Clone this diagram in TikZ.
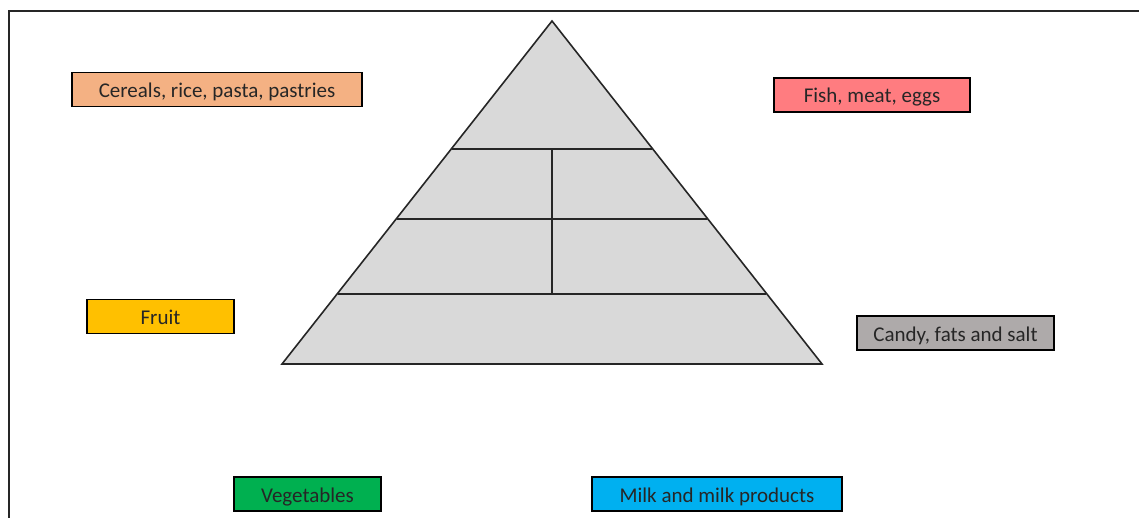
\documentclass[tikz,border=0pt]{standalone}
\usepackage{fontspec}
\setmainfont{Carlito}
\definecolor{cereal}{HTML}{F4B183}
\definecolor{fish}{HTML}{FF7C80}
\definecolor{fruit}{HTML}{FFC000}
\definecolor{candy}{HTML}{AEAAAA}
\definecolor{veg}{HTML}{00B050}
\definecolor{milk}{HTML}{00B0F0}
\definecolor{pyr}{HTML}{D9D9D9}
\tikzset{
  foodbox/.style={draw=black, line width=1.2pt, minimum height=34pt, inner sep=0pt,
    text height=16pt, text depth=0pt,
    font=\fontsize{21}{24}\selectfont, text=black!85},
  pyrline/.style={line width=1.6pt, black!85}
}
\begin{document}
\begin{tikzpicture}[x=1pt,y=-1pt]
	    \useasboundingbox (0,0) rectangle (1139,518);
	    % frame
	    \draw[line width=2.5pt, black!85] (1139,11) -- (9,11) -- (9,518);
	    % pyramid
	    \coordinate (A) at (552,21);
	    \coordinate (BL) at (282,364);
	    \coordinate (BR) at (822,364);
	    \coordinate (L1) at (452,149);
	    \coordinate (R1) at (652,149);
	    \coordinate (L2) at (397,219);
	    \coordinate (R2) at (707,219);
	    \coordinate (L3) at (338,294);
	    \coordinate (R3) at (766,294);
	    \coordinate (M1) at (552,149);
	    \coordinate (M3) at (552,294);
	    \draw[pyrline, fill=pyr, line join=miter] (A) -- (BL) -- (BR) -- cycle;
	    \draw[pyrline] (L1) -- (R1);
	    \draw[pyrline] (L2) -- (R2);
	    \draw[pyrline] (L3) -- (R3);
	    \draw[pyrline] (M1) -- (M3);
	    % labels
	    \node[foodbox, fill=cereal, minimum width=290pt] (cereals) at (217,89.5) {Cereals, rice, pasta, pastries};
	    \node[foodbox, fill=fish, minimum width=196pt] (fish) at (872,95) {Fish, meat, eggs};
	    \node[foodbox, fill=fruit, minimum width=147pt] (fruit) at (160.5,316.5) {Fruit};
	    \node[foodbox, fill=candy, minimum width=197pt] (candy) at (955.5,333) {Candy, fats and salt};
	    \node[foodbox, fill=veg, minimum width=147pt] (veg) at (307.5,494) {Vegetables};
	    \node[foodbox, fill=milk, minimum width=250pt] (milk) at (717,494) {Milk and milk products};
\end{tikzpicture}
\end{document}
